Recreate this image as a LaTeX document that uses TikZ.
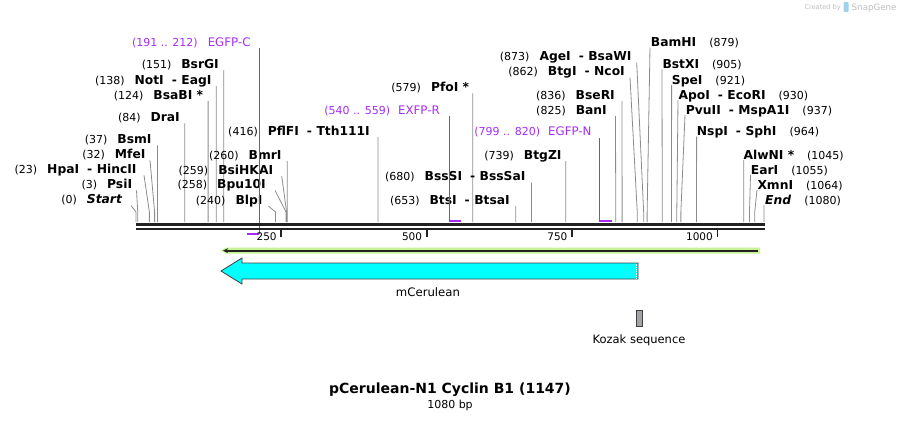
\documentclass[tikz,border=0pt]{standalone}
\usepackage{fontspec}
\setmainfont{DejaVu Sans}
\usetikzlibrary{arrows.meta}
\definecolor{primer}{RGB}{165,45,245}
\definecolor{siteline}{RGB}{140,140,140}
\definecolor{barcol}{RGB}{34,34,34}
\definecolor{orfgreen}{RGB}{200,242,150}
\definecolor{cdscyan}{RGB}{0,255,255}
\definecolor{kozakgray}{RGB}{160,164,168}
\definecolor{logogray}{RGB}{190,190,190}
\definecolor{logoblue}{RGB}{160,210,240}
\newcommand{\cutsep}{\hspace{8pt}-\hspace{4.5pt}}
\newcommand{\enz}[1]{{\fontsize{12.3}{14}\selectfont\bfseries #1}}
\tikzset{
  leftlbl/.style={anchor=base east, inner sep=0pt, font=\fontsize{11}{13}\selectfont},
  rightlbl/.style={anchor=base west, inner sep=0pt, font=\fontsize{11}{13}\selectfont},
  siteln/.style={draw=siteline, line width=0.8pt},
  primerln/.style={color=primer, line width=1.5pt},
  primerbar/.style={color=primer, line width=2.2pt},
  ticklbl/.style={anchor=base east, inner sep=0pt, font=\fontsize{10.5}{12}\selectfont}
}
\begin{document}
\begin{tikzpicture}[x=1pt, y=-1pt]
        \useasboundingbox (0,0) rectangle (901,421);

        % Logo in the corner
        \node[anchor=base east, inner sep=0pt, text=logogray, font=\fontsize{6.6}{8}\selectfont] (made) at (841,9.5) {Created by};
        \fill[logoblue, rounded corners=1pt] (843.5,2) rectangle (848.5,12);
        \node[anchor=base west, inner sep=0pt, text=logogray, font=\fontsize{8.7}{10}\selectfont] (snap) at (851.5,10.5) {SnapGene};

        % Cut sites with labels on the left
        \foreach \nm/\ly/\lx/\tx/\bp/\txt in {
            st/199.5/122.5/131/0/\textit{Start},
            psi/184.3/132.3/136.5/3/PsiI,
            hpa/169.3/136.7/144/23/HpaI\cutsep HincII,
            mfe/154.3/145.7/150/32/MfeI,
            bsm/139.3/151.7/157.5/37/BsmI,
            dra/117.3/180/184.8/84/DraI,
            bsab/95/203.3/208.1/124/BsaBI *,
            not/80/211.7/216.2/138/NotI\cutsep EagI,
            bsrg/64.3/219/223.8/151/BsrGI,
            blp/200/262.7/268.3/240/BlpI,
            bpu/184.3/266/275/258/Bpu10I,
            bsih/170/273.3/281.7/259/BsiHKAI,
            bmr/155/281.7/287.2/260/BmrI,
            pflf/131/370/377.9/416/PflFI\cutsep Tth111I,
            pfo/87.3/469.3/472.7/579/PfoI *,
            bts/200/510/515.7/653/BtsI\cutsep BtsaI,
            bsss/176.7/525.7/531.4/680/BssSI\cutsep BssSaI,
            btgz/155/561.7/565.7/739/BtgZI,
            ban/110/607/615.5/825/BanI,
            bser/95/615/622/836/BseRI,
            btg/71.7/625/630/862/BtgI\cutsep NcoI,
            age/56.7/631.7/636.7/873/AgeI\cutsep BsaWI} {
            \pgfmathsetmacro\sx{136+\bp*0.5815}
            \node[leftlbl] (l-\nm) at (\lx,\ly+4) {(\bp)\hspace{10pt}\enz{\txt}};
            \coordinate (t-\nm) at (\tx,\ly+6);
            \coordinate (s-\nm) at (\sx,222);
            \draw[siteln] (t-\nm) -- ([yshift=10pt]s-\nm) -- (s-\nm);
        }

        % Cut sites with labels on the right
        \foreach \nm/\ly/\lx/\tx/\bp/\txt in {
            bam/42.7/650.7/650/879/BamHI,
            bstx/64.3/662.3/662/905/BstXI,
            spe/80/671.7/671.6/921/SpeI,
            apo/95/678.3/678/930/ApoI\cutsep EcoRI,
            pvu/110/685.7/685/937/PvuII\cutsep MspA1I,
            nsp/131.7/696.7/696.6/964/NspI\cutsep SphI,
            alw/155/743.3/743.7/1045/AlwNI *,
            ear/170/750.7/750.5/1055/EarI,
            xmn/185/757.3/757/1064/XmnI,
            en/200/765/764/1080/\textit{End}} {
            \pgfmathsetmacro\sx{136+\bp*0.5815}
            \node[rightlbl] (l-\nm) at (\lx,\ly+4) {\enz{\txt}\hspace{13pt}(\bp)};
            \coordinate (t-\nm) at (\tx,\ly+5);
            \coordinate (s-\nm) at (\sx,222);
            \draw[siteln] (t-\nm) -- ([yshift=10pt]s-\nm) -- (s-\nm);
        }

        % Primers
        \node[leftlbl, text=primer] (l-egfpc) at (250.7,46.3) {(191 .. 212)\hspace{10pt}{\fontsize{11.8}{14}\selectfont EGFP-C}};
        \coordinate (p-egfpc) at (259.3,234);
        \draw[primerln] (259.3,48) -- (p-egfpc);
        \draw[primerbar] (p-egfpc) -- (246.5,234);
        \node[leftlbl, text=primer] (l-exfpr) at (440,114) {(540 .. 559)\hspace{8pt}{\fontsize{11.8}{14}\selectfont EXFP-R}};
        \coordinate (p-exfpr) at (449.3,221);
        \draw[primerln] (449.3,116) -- (p-exfpr);
        \draw[primerbar] (p-exfpr) -- (460.5,221);
        \node[leftlbl, text=primer] (l-egfpn) at (591.7,135.7) {(799 .. 820)\hspace{8pt}{\fontsize{11.8}{14}\selectfont EGFP-N}};
        \coordinate (p-egfpn) at (599.3,221);
        \draw[primerln] (599.3,138) -- (p-egfpn);
        \draw[primerbar] (p-egfpn) -- (612,221);

        % Sequence bar and ticks
        \draw[barcol, line width=2.6pt] (136,224.6) -- (765,224.6);
        \draw[barcol, line width=2.4pt] (136,229) -- (765,229);
        \foreach \t in {250,500,750,1000} {
            \pgfmathsetmacro\tk{136+\t*0.5815}
            \draw[barcol, line width=1.8pt] (\tk,230) -- (\tk,237.3);
            \node[ticklbl] (tick-\t) at (\tk-4.5,240.8) {\t};
        }

        % Open reading frame
        \fill[orfgreen] (220.5,250.7) -- (226,247.5) -- (760,247.5) -- (760,253.5) -- (226,253.5) -- cycle;
        \draw[barcol, line width=1.6pt, -{Stealth[length=5pt,width=5pt]}] (758,250.7) -- (223,250.7);

        % mCerulean
        \draw[fill=cdscyan, draw=black!75, line width=0.8pt] (638,263) -- (242,263) -- (242,258) -- (221,271) -- (242,284) -- (242,279) -- (638,279) -- cycle;
        \draw[white, line width=0.8pt, densely dotted] (636.6,263.5) -- (636.6,278.5);
        \node[font=\fontsize{11.7}{14}\selectfont] (cds) at (428,292) {mCerulean};

        % Kozak sequence
        \draw[fill=kozakgray, draw=black!75, line width=0.8pt] (636.2,310.2) rectangle (642.5,326.5);
        \node[font=\fontsize{11.5}{14}\selectfont] (kozak) at (639,340) {Kozak sequence};

        % Title
        \node[font=\fontsize{14}{16}\selectfont\bfseries] (title) at (450,390) {pCerulean-N1 Cyclin B1 (1147)};
        \node[font=\fontsize{11}{13}\selectfont] (size) at (450,405.5) {1080 bp};
    \end{tikzpicture}
\end{document}
